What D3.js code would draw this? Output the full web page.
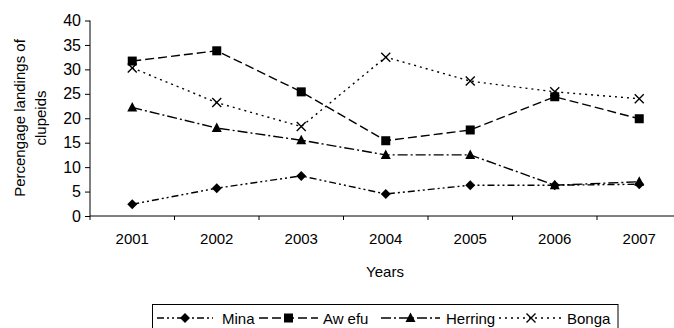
<!DOCTYPE html>
<html><head><meta charset="utf-8">
<script src="https://cdn.jsdelivr.net/npm/d3@7"></script>
<style>
html,body{margin:0;padding:0;background:#fff;}
svg{display:block;font-family:"Liberation Sans",Arial,sans-serif;}
</style></head>
<body><svg id="c" width="674" height="328"></svg>
<script>
const years = ["2001","2002","2003","2004","2005","2006","2007"];
const mina    = [2.4, 5.7, 8.2, 4.5, 6.3, 6.3, 6.5];
const awefu   = [31.7, 33.8, 25.4, 15.4, 17.6, 24.4, 19.9];
const herring = [22.2, 18.0, 15.5, 12.5, 12.5, 6.3, 7.0];
const bonga   = [30.3, 23.2, 18.3, 32.5, 27.6, 25.4, 24.0];
const seriesNames = ["Mina","Awefu","Herring","Bonga"];
const yTicks = [0,5,10,15,20,25,30,35,40];

const series = [
  {name: seriesNames[0], values: mina,    dash: "7,3,2,3,2,3", marker: "diamond"},
  {name: seriesNames[1], values: awefu,   dash: "9,4",         marker: "square"},
  {name: seriesNames[2], values: herring, dash: "10,3,2,3",    marker: "triangle"},
  {name: seriesNames[3], values: bonga,   dash: "2,4",         marker: "x"}
];

const svg = d3.select("#c");
const mLeft = 90, mTop = 20.5, mBottom = 216, bandW = 84.5;
const x = d3.scaleBand().domain(years).range([mLeft, mLeft + bandW * years.length]).padding(0);
const y = d3.scaleLinear().domain([0, 40]).range([mBottom, mTop]);
const cx = d => x(d) + x.bandwidth() / 2;

// Y axis
const ya = svg.append("g").attr("transform", `translate(${mLeft},0)`)
  .call(d3.axisLeft(y).tickValues(yTicks).tickSize(5).tickSizeOuter(0).tickPadding(4));
ya.select(".domain").remove();
ya.selectAll("line").attr("stroke", "#000");
ya.selectAll("text").attr("font-size", 16).attr("fill", "#000").attr("font-family", '"Liberation Sans",Arial,sans-serif');
svg.append("line").attr("x1", mLeft).attr("x2", mLeft).attr("y1", y(40)).attr("y2", mBottom + 4)
  .attr("stroke", "#000").attr("stroke-width", 1);

// X axis
const xa = svg.append("g").attr("transform", `translate(0,${mBottom})`)
  .call(d3.axisBottom(x).tickSize(0).tickPadding(17));
xa.select(".domain").remove();
xa.selectAll("text").attr("font-size", 15).attr("fill", "#000").attr("font-family", '"Liberation Sans",Arial,sans-serif');
svg.append("line").attr("x1", mLeft).attr("x2", 674).attr("y1", mBottom).attr("y2", mBottom)
  .attr("stroke", "#000").attr("stroke-width", 1);
const bounds = years.slice(1).map(d => x(d));
svg.selectAll(".xt").data(bounds).enter().append("line")
  .attr("x1", d => d).attr("x2", d => d).attr("y1", mBottom).attr("y2", mBottom + 4)
  .attr("stroke", "#000");

// Axis titles
const yl = svg.append("text").attr("transform", "translate(25,118) rotate(-90)")
  .attr("text-anchor", "middle").attr("font-size", 15).attr("fill", "#000");
yl.append("tspan").attr("x", 0).attr("dy", 0).text("Percengage landings of");
yl.append("tspan").attr("x", 0).attr("dy", 21).text("clupeids");
svg.append("text").attr("x", 385).attr("y", 277).attr("text-anchor", "middle")
  .attr("font-size", 15).attr("fill", "#000").text("Years");

// Markers
function drawMarker(g, type, px, py) {
  if (type === "diamond") {
    g.append("path").attr("d", `M${px},${py-5}L${px+5},${py}L${px},${py+5}L${px-5},${py}Z`).attr("fill", "#000");
  } else if (type === "square") {
    g.append("rect").attr("x", px-4.5).attr("y", py-4.5).attr("width", 9).attr("height", 9).attr("fill", "#000");
  } else if (type === "triangle") {
    g.append("path").attr("d", `M${px},${py-5.5}L${px+5},${py+4}L${px-5},${py+4}Z`).attr("fill", "#000");
  } else {
    g.append("path").attr("d", `M${px-4.5},${py-4.5}L${px+4.5},${py+4.5}M${px+4.5},${py-4.5}L${px-4.5},${py+4.5}`)
      .attr("stroke", "#000").attr("stroke-width", 1.4).attr("fill", "none");
  }
}

const line = d3.line().x((d, i) => cx(years[i])).y(d => y(d));
series.forEach(s => {
  const g = svg.append("g");
  g.append("path").attr("d", line(s.values)).attr("fill", "none")
    .attr("stroke", "#000").attr("stroke-width", 1.4).attr("stroke-dasharray", s.dash);
  s.values.forEach((v, i) => drawMarker(g, s.marker, cx(years[i]), y(v)));
});

// Legend
const leg = svg.append("g");
leg.append("rect").attr("x", 152.5).attr("y", 304.5).attr("width", 465.5).attr("height", 30)
  .attr("fill", "#fff").attr("stroke", "#000").attr("stroke-width", 1);
const legItems = [
  {x0: 157, x1: 213, tx: 222},
  {x0: 259, x1: 318, tx: 323},
  {x0: 381, x1: 440, tx: 446},
  {x0: 499, x1: 563, tx: 567}
];
const ly = 318;
series.forEach((s, i) => {
  const it = legItems[i];
  leg.append("line").attr("x1", it.x0).attr("x2", it.x1).attr("y1", ly).attr("y2", ly)
    .attr("stroke", "#000").attr("stroke-width", 1.4).attr("stroke-dasharray", s.dash);
  drawMarker(leg, s.marker, (it.x0 + it.x1) / 2, ly);
  const t = leg.append("text").attr("x", it.tx).attr("y", ly + 5.5).attr("font-size", 15).attr("fill", "#000");
  if (s.name === "Awefu") {
    t.append("tspan").text("Aw");
    t.append("tspan").attr("dx", 4).text("efu");
  } else {
    t.text(s.name);
  }
});
</script></body></html>
